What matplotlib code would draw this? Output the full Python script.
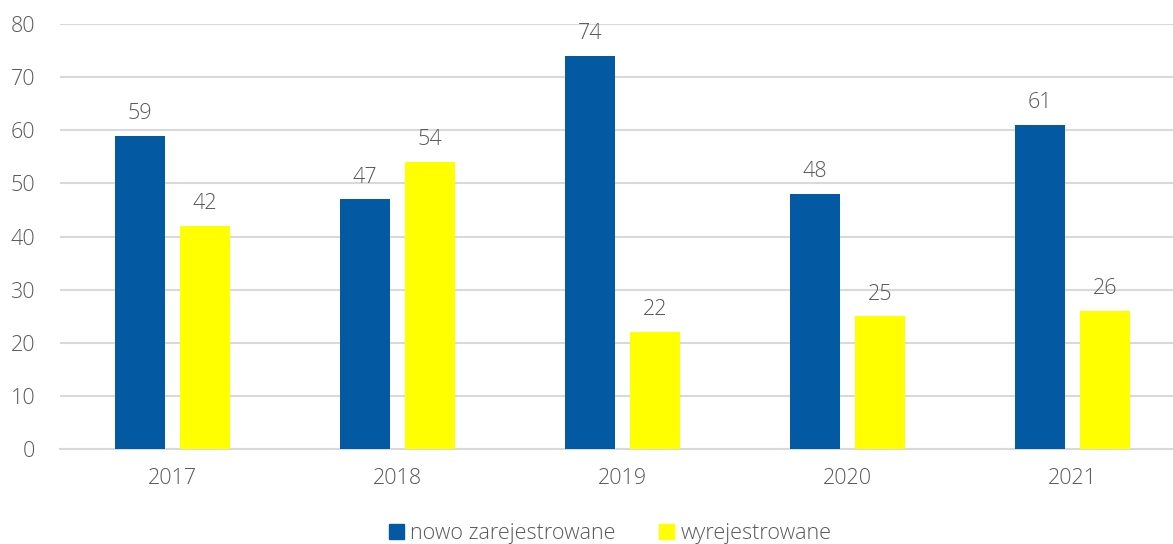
import numpy as np
import matplotlib
matplotlib.use('Agg')
import matplotlib.pyplot as plt
from matplotlib.patches import Patch

years = ['2017', '2018', '2019', '2020', '2021']
nowo = [59, 47, 74, 48, 61]
wyrej = [42, 54, 22, 25, 26]
series_labels = ['nowo zarejestrowane', 'wyrejestrowane']

plt.rcParams['font.family'] = ['Open Sans', 'DejaVu Sans']
plt.rcParams['font.weight'] = 'light'
text_color = '#595959'
fs = 15.5

fig = plt.figure(figsize=(11.73, 5.44), dpi=100)
ax = fig.add_axes([0.0512, 0.1746, 0.959, 0.7813])

x = np.arange(len(years))
width = 0.222
off = 0.144

b1 = ax.bar(x - off, nowo, width, color='#045aa2', zorder=3)
b2 = ax.bar(x + off, wyrej, width, color='#ffff00', zorder=3)

for rect, v in list(zip(b1, nowo)) + list(zip(b2, wyrej)):
    ax.text(rect.get_x() + rect.get_width() / 2, v + 2.2, str(v),
            ha='center', va='bottom', fontsize=fs, color=text_color)

ax.set_xlim(-0.5, len(years) - 0.5)
ax.set_ylim(0, 80)
ax.set_yticks(range(0, 81, 10))
ax.set_xticks(x)
ax.set_xticklabels(years)
ax.grid(axis='y', color='#d9d9d9', linewidth=1.5, zorder=0)
for s in ['top', 'right', 'left']:
    ax.spines[s].set_visible(False)
ax.spines['bottom'].set_color('#d9d9d9')
ax.spines['bottom'].set_linewidth(1.5)
ax.tick_params(axis='both', length=0, labelsize=fs, labelcolor=text_color)
ax.tick_params(axis='x', pad=14)
ax.tick_params(axis='y', pad=18)

handles = [Patch(color='#045aa2'), Patch(color='#ffff00')]
fig.legend(handles, series_labels, loc='lower center', bbox_to_anchor=(0.52, -0.035),
           ncol=2, frameon=False, fontsize=fs, labelcolor=text_color,
           handlelength=0.7, handleheight=0.7, handletextpad=0.3, columnspacing=2.0)

fig.savefig('out.png', dpi=100)
